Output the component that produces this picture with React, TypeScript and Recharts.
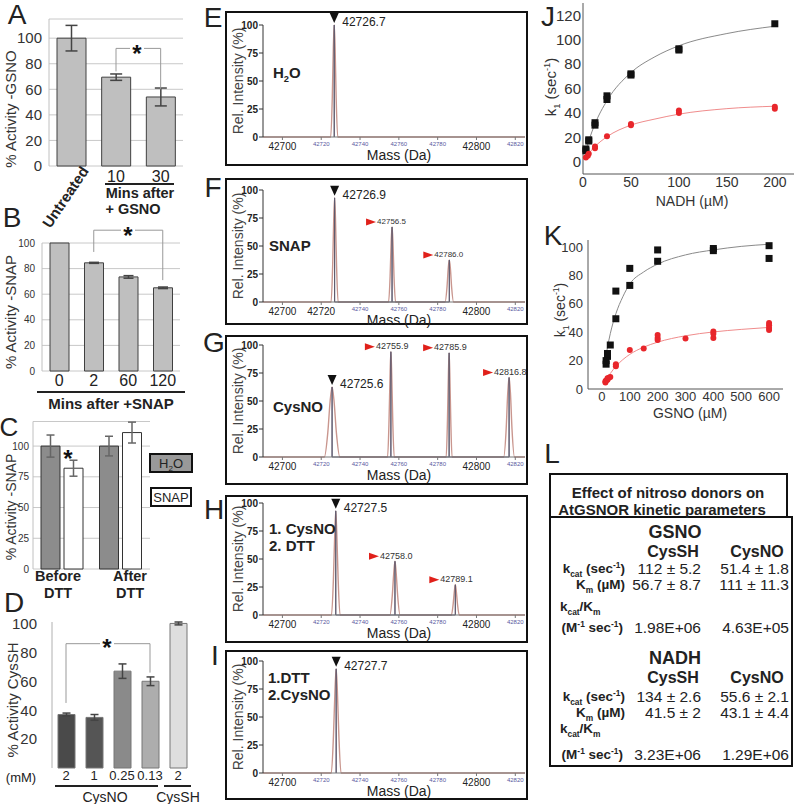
import React from 'react';
import { ComposedChart, Bar, ErrorBar, XAxis, YAxis, CartesianGrid, ReferenceLine, Cell, Line, Scatter } from 'recharts';

const FONT = '"Liberation Sans", Arial, Helvetica, sans-serif';

// A: activity after GSNO
const aCats = ['Untreated', '10', '30'];
const aVals = [100, 69.5, 54];
const aErr = [10, 2.5, 7];

// B: activity after SNAP
const bCats = ['0', '2', '60', '120'];
const bVals = [100, 84.5, 73.5, 65];
const bErr = [0, 0.4, 1, 0.6];

// C: before / after DTT
const cCats = ['Before', 'After'];
const cH2O = [100, 100];
const cH2OErr = [9, 8];
const cSnap = [82, 111];
const cSnapErr = [6.5, 8.5];

// D: CysNO / CysSH
const dKeys = ['no2', 'no1', 'no025', 'no013', 'sh2'];
const dDose = ['2', '1', '0.25', '0.13', '2'];
const dVals = [37, 35, 67, 60, 100];
const dErr = [1, 2, 5, 3, 1];
const dColors = ['#4a4a4a', '#555555', '#8a8a8a', '#adadad', '#dedede'];

// E-I: deconvoluted mass spectra
const massTicks = [42700, 42720, 42740, 42760, 42780, 42800, 42820];
const eMain = [{ x: 42726.7, y: 100, label: '42726.7' }];
const eAdd: any[] = [];
const eProfile = [[42690, 0], [42724.9, 0], [42725.7, 35], [42726.25, 80], [42726.7, 100], [42727.15, 80], [42727.7, 35], [42728.5, 0], [42825, 0]];

const fMain = [{ x: 42726.9, y: 93, label: '42726.9' }];
const fAdd = [{ x: 42756.5, y: 67, label: '42756.5' }, { x: 42786.0, y: 37.5, label: '42786.0' }];
const fProfile = [[42690, 0], [42725.1, 0], [42725.9, 33], [42726.45, 74], [42726.9, 93], [42727.35, 74], [42727.9, 33], [42728.7, 0],
  [42754.7, 0], [42755.5, 23], [42756.05, 54], [42756.5, 67], [42756.95, 54], [42757.5, 23], [42758.3, 0],
  [42783.8, 0], [42784.8, 13], [42785.45, 30], [42786.0, 37.5], [42786.55, 30], [42787.2, 13], [42788.2, 0], [42825, 0]];

const gMain = [{ x: 42725.6, y: 62.5, label: '42725.6' }];
const gAdd = [{ x: 42755.9, y: 94, label: '42755.9' }, { x: 42785.9, y: 93, label: '42785.9' }, { x: 42816.8, y: 71, label: '42816.8' }];
const gProfile = [[42690, 0], [42721.6, 0], [42723.4, 22], [42724.6, 50], [42725.6, 62.5], [42726.6, 50], [42727.8, 22], [42729.6, 0],
  [42754.2, 0], [42754.95, 33], [42755.5, 75], [42755.9, 94], [42756.3, 75], [42756.85, 33], [42757.6, 0],
  [42784.4, 0], [42785.05, 33], [42785.55, 75], [42785.9, 93], [42786.25, 75], [42786.75, 33], [42787.4, 0],
  [42814.0, 0], [42815.3, 25], [42816.1, 57], [42816.8, 71], [42817.5, 57], [42818.3, 25], [42819.6, 0], [42825, 0]];

const hMain = [{ x: 42727.5, y: 93, label: '42727.5' }];
const hAdd = [{ x: 42758.0, y: 48, label: '42758.0' }, { x: 42789.1, y: 27, label: '42789.1' }];
const hProfile = [[42690, 0], [42725.3, 0], [42726.3, 33], [42727.0, 74], [42727.5, 93], [42728.0, 74], [42728.7, 33], [42729.7, 0],
  [42755.4, 0], [42756.6, 17], [42757.4, 38], [42758.0, 48], [42758.6, 38], [42759.4, 17], [42760.6, 0],
  [42787.1, 0], [42788.0, 10], [42788.65, 22], [42789.1, 27], [42789.55, 22], [42790.2, 10], [42791.1, 0], [42825, 0]];

const iMain = [{ x: 42727.7, y: 93, label: '42727.7' }];
const iAdd: any[] = [];
const iProfile = [[42690, 0], [42725.2, 0], [42726.3, 33], [42727.1, 74], [42727.7, 93], [42728.3, 74], [42729.1, 33], [42730.2, 0], [42825, 0]];

// J: NADH kinetics
const jNadhSH = [3, 3, 6, 6, 12.5, 12.5, 25, 25, 50, 50, 100, 100, 200];
const jKSH = [10.5, 9, 18, 17, 32, 30, 51, 54, 72, 71, 92.5, 91.5, 113];
const jNadhNO = [3, 5, 6, 12.5, 12.5, 25, 50, 50, 100, 100, 200, 200];
const jKNO = [3.5, 5, 6.5, 11, 12.5, 21, 30, 31, 40, 42, 43.5, 45];
const jFitX = [3, 6, 12.5, 25, 50, 75, 100, 150, 200];
const jFitSH = [9, 17, 31, 50, 73, 86, 95, 105, 111];
const jFitNO = [3.6, 6.8, 12.5, 20.5, 30, 35, 39, 43.5, 45.5];

// K: GSNO kinetics
const kGsnoSH = [15, 15, 20, 20, 30, 50, 50, 100, 100, 200, 200, 400, 400, 600, 600];
const kKSH = [17.5, 20, 23, 25, 31, 49.5, 69, 73, 85, 90, 98, 97.5, 99, 92, 101];
const kGsnoNO = [12.5, 12.5, 15, 20, 20, 25, 30, 50, 50, 100, 150, 200, 200, 200, 300, 400, 400, 400, 600, 600, 600, 600];
const kKNO = [4.5, 5.5, 6, 6.5, 7.5, 8, 8.5, 16, 17.5, 27.5, 28.5, 34.5, 36, 38, 35.5, 36, 39, 40.5, 41.5, 43, 45, 46.5];
const kFitX = [15, 20, 30, 50, 75, 100, 150, 200, 300, 400, 500, 600];
const kFitSH = [24, 29.5, 39, 53, 65, 74, 82.5, 88, 94.5, 98, 100.5, 102];
const kFitNO = [6.2, 7.8, 10.9, 15.9, 20.7, 24.4, 29.5, 33, 37.5, 40.2, 42, 43.4];

// L: kinetic parameters table
const gsnoSH = ['112 ± 5.2', '56.7 ± 8.7', '1.98E+06'];
const gsnoNO = ['51.4 ± 1.8', '111 ± 11.3', '4.63E+05'];
const nadhSH = ['134 ± 2.6', '41.5 ± 2', '3.23E+06'];
const nadhNO = ['55.6 ± 2.1', '43.1 ± 4.4', '1.29E+06'];

const xy = (xs: number[], ys: number[]) => xs.map((x, i) => ({ x, y: ys[i] }));
const pairs = (p: number[][]) => p.map(([x, y]) => ({ x, y }));
const sticksOf = (pk: any[]) => pk.flatMap((p) => [{ x: p.x, y: 0 }, { x: p.x, y: p.y }, { x: p.x, y: 0 }]);

function Txt({ x, y, size = 14, bold = false, rot = 0, anchor = 'middle', color = '#222', children }: any) {
  const tx = anchor === 'start' ? '0%' : anchor === 'end' ? '-100%' : '-50%';
  return (
    <div style={{ position: 'absolute', left: x, top: y, transform: `translate(${tx}, -50%) rotate(${rot}deg)`, fontSize: size, fontWeight: bold ? 'bold' : 'normal', color, whiteSpace: 'nowrap', lineHeight: 1, fontFamily: FONT }}>
      {children}
    </div>
  );
}

const Sub = ({ children }: any) => <span style={{ fontSize: '0.62em', verticalAlign: 'sub', lineHeight: 0 }}>{children}</span>;
const Sup = ({ children }: any) => <span style={{ fontSize: '0.62em', verticalAlign: 'super', lineHeight: 0 }}>{children}</span>;

function Star({ x, y, bg = true }: any) {
  return (
    <>
      {bg && <div style={{ position: 'absolute', left: x - 7, top: y - 5, width: 14, height: 10, background: '#fff' }} />}
      <div style={{ position: 'absolute', left: x, top: y - 6.5, transform: 'translateX(-50%)', fontSize: 24, lineHeight: '24px', fontWeight: 'bold', fontFamily: FONT, color: '#111' }}>*</div>
    </>
  );
}

function Hline({ x1, x2, y }: any) {
  return <div style={{ position: 'absolute', left: x1, top: y, width: x2 - x1, height: 1.5, background: '#222' }} />;
}

const sig = (a: string, b: string, top: number, ya: number, yb: number) => [
  <ReferenceLine key="h" segment={[{ x: a, y: top }, { x: b, y: top }]} stroke="#999" ifOverflow="visible" />,
  <ReferenceLine key="l" segment={[{ x: a, y: top }, { x: a, y: ya }]} stroke="#999" ifOverflow="visible" />,
  <ReferenceLine key="r" segment={[{ x: b, y: top }, { x: b, y: yb }]} stroke="#999" ifOverflow="visible" />,
];

function ATick({ x, y, payload }: any) {
  if (payload.value === 'Untreated') {
    return <text transform={`translate(${x + 18},${y - 3}) rotate(-56)`} textAnchor="end" fontSize={15} fontWeight="bold" fill="#222" fontFamily={FONT}>Untreated</text>;
  }
  return <text x={x} y={y + 8} textAnchor="middle" fontSize={16} fill="#222" fontFamily={FONT}>{payload.value}</text>;
}

function PanelA() {
  const data = aCats.map((c, i) => ({ c, v: aVals[i], e: aErr[i] }));
  return (
    <div style={{ position: 'absolute', left: 0, top: 0 }}>
      <ComposedChart width={200} height={230} data={data} margin={{ top: 19, right: 17, bottom: 0, left: 0 }}>
        <CartesianGrid vertical={false} stroke="#c8c8c8" />
        <XAxis dataKey="c" height={64} tickLine={false} axisLine={false} tick={<ATick />} interval={0} />
        <YAxis width={49} domain={[0, 115]} ticks={[0, 20, 40, 60, 80, 100]} tick={{ fontSize: 15, fill: '#333', fontFamily: FONT }} tickLine={false} tickSize={0} tickMargin={7} axisLine={{ stroke: '#c0c0c0' }} />
        <Bar dataKey="v" fill="#bfbfbf" stroke="#404040" barSize={29} isAnimationActive={false}>
          <ErrorBar dataKey="e" width={6} stroke="#444" />
        </Bar>
        {sig('10', '30', 92, 74, 60)}
      </ComposedChart>
    </div>
  );
}

function PanelB() {
  const data = bCats.map((c, i) => ({ c, v: bVals[i], e: bErr[i] }));
  return (
    <div style={{ position: 'absolute', left: 0, top: 200 }}>
      <ComposedChart width={200} height={215} data={data} margin={{ top: 43, right: 20, bottom: 0, left: 0 }}>
        <CartesianGrid vertical={false} stroke="#c8c8c8" />
        <XAxis dataKey="c" height={44} tickLine={false} axisLine={false} tickSize={0} tickMargin={4} tick={{ fontSize: 16, fill: '#222', fontFamily: FONT }} interval={0} />
        <YAxis width={42} domain={[0, 100]} ticks={[0, 20, 40, 60, 80, 100]} tick={{ fontSize: 10, fill: '#333', fontFamily: FONT }} tickLine={false} tickSize={0} tickMargin={7} axisLine={{ stroke: '#c0c0c0' }} />
        <Bar dataKey="v" fill="#bfbfbf" stroke="#404040" barSize={19} isAnimationActive={false}>
          <ErrorBar dataKey="e" width={5} stroke="#444" />
        </Bar>
        {sig('2', '120', 110, 93, 71)}
      </ComposedChart>
    </div>
  );
}

function PanelC() {
  const data = cCats.map((c, i) => ({ c, h: cH2O[i], he: cH2OErr[i], s: cSnap[i], se: cSnapErr[i] }));
  return (
    <div style={{ position: 'absolute', left: 0, top: 410 }}>
      <ComposedChart width={170} height={175} data={data} margin={{ top: 11.5, right: 20, bottom: 0, left: 0 }} barGap={4}>
        <CartesianGrid vertical={false} stroke="#c8c8c8" />
        <XAxis dataKey="c" height={16} tick={false} tickLine={false} axisLine={false} />
        <YAxis width={33} domain={[0, 120]} ticks={[0, 25, 50, 75, 100]} tick={{ fontSize: 10, fill: '#333', fontFamily: FONT }} tickLine={false} tickSize={0} tickMargin={4} axisLine={{ stroke: '#c0c0c0' }} />
        <Bar dataKey="h" fill="#8c8c8c" stroke="#333" barSize={19} isAnimationActive={false}>
          <ErrorBar dataKey="he" width={4} stroke="#666" />
        </Bar>
        <Bar dataKey="s" fill="#ffffff" stroke="#333" barSize={19} isAnimationActive={false}>
          <ErrorBar dataKey="se" width={4} stroke="#666" />
        </Bar>
      </ComposedChart>
    </div>
  );
}

function PanelD() {
  const data = dKeys.map((k, i) => ({ k, v: dVals[i], e: dErr[i] }));
  return (
    <div style={{ position: 'absolute', left: 0, top: 610 }}>
      <ComposedChart width={200} height={182} data={data} margin={{ top: 12, right: 8, bottom: 0, left: 0 }}>
        <XAxis dataKey="k" height={24} tickLine={false} axisLine={false} tickSize={0} tickMargin={3} interval={0}
          tickFormatter={(v: string) => dDose[dKeys.indexOf(v)]} tick={{ fontSize: 13, fill: '#222', fontFamily: FONT }} />
        <YAxis width={52} domain={[0, 100]} ticks={[20, 40, 60, 80, 100]} tick={{ fontSize: 15, fill: '#333', fontFamily: FONT }} tickLine={false} tickSize={0} tickMargin={15} axisLine={{ stroke: '#b0b0b0' }} />
        <Bar dataKey="v" stroke="#777" barSize={17} isAnimationActive={false}>
          {data.map((d, i) => <Cell key={d.k} fill={dColors[i]} />)}
          <ErrorBar dataKey="e" width={4} stroke="#444" />
        </Bar>
        {sig('no2', 'no013', 86, 45, 66)}
      </ComposedChart>
    </div>
  );
}

function MassTick({ x, y, payload, bold }: any) {
  const b = bold.includes(payload.value);
  return (
    <text x={x} y={y + (b ? 8 : 4)} textAnchor="middle" fontSize={b ? 10 : 6} fill={b ? '#222' : '#5a5aa0'} fontFamily={FONT}>{payload.value}</text>
  );
}

const mainMark = (p: any) => (
  <g>
    <path d={`M${p.cx - 4.5},${p.cy - 12} L${p.cx + 4.5},${p.cy - 12} L${p.cx},${p.cy - 2} Z`} fill="#111" />
    <text x={p.cx + 8} y={p.cy - 2} fontSize={12} fill="#222" dominantBaseline="middle" fontFamily={FONT}>{p.payload.label}</text>
  </g>
);

const addMark = (fs: number) => (p: any) => (
  <g>
    <path d={`M${p.cx - 26},${p.cy - 8.5} L${p.cx - 16},${p.cy - 5} L${p.cx - 26},${p.cy - 1.5} Z`} fill="#e0201a" />
    <text x={p.cx - 15} y={p.cy - 5} fontSize={fs} fill="#333" dominantBaseline="middle" fontFamily={FONT}>{p.payload.label}</text>
  </g>
);

function Spectrum({ top, h, mTop, profile, main, adds, bold, addFs, notes }: any) {
  const innerH = h - 4;
  const xH = innerH - mTop - 112;
  return (
    <div style={{ position: 'absolute', left: 225, top, width: 303, height: h, border: '2px solid #111', boxSizing: 'border-box' }}>
      <ComposedChart width={299} height={innerH} margin={{ top: mTop, right: 1, bottom: 0, left: 0 }}>
        <XAxis type="number" dataKey="x" domain={[42690, 42825]} ticks={massTicks} height={xH} tickSize={3} stroke="#777" interval={0} tick={<MassTick bold={bold} />} />
        <YAxis type="number" dataKey="y" domain={[0, 100]} ticks={[0, 25, 50, 75, 100]} width={36} tickSize={4} tickMargin={1} stroke="#333" tick={{ fontSize: 10, fontWeight: 'bold', fill: '#222', fontFamily: FONT }} />
        <Line data={pairs(profile)} dataKey="y" type="monotone" stroke="#c9968e" strokeWidth={1.4} dot={false} isAnimationActive={false} />
        <Line data={sticksOf([...main, ...adds])} dataKey="y" type="linear" stroke="#5e5a6e" strokeWidth={1} dot={false} isAnimationActive={false} />
        <Scatter data={main} dataKey="y" shape={mainMark} isAnimationActive={false} />
        <Scatter data={adds} dataKey="y" shape={addMark(addFs)} isAnimationActive={false} />
      </ComposedChart>
      <Txt x={11} y={mTop + 56} size={14} rot={-90} color="#444">Rel. Intensity (%)</Txt>
      <Txt x={172} y={mTop + 112 + 18} size={14} color="#222">Mass (Da)</Txt>
      {notes}
    </div>
  );
}

const sq = (p: any) => <rect x={p.cx - 3.5} y={p.cy - 3.5} width={7} height={7} fill="#111" />;
const dotR = (p: any) => <circle cx={p.cx} cy={p.cy} r={3} fill="#e8262b" />;

function PanelJ() {
  return (
    <div style={{ position: 'absolute', left: 540, top: 0 }}>
      <ComposedChart width={260} height={205} margin={{ top: 3, right: 6, bottom: 0, left: 0 }}>
        <XAxis type="number" dataKey="x" domain={[0, 220]} ticks={[0, 50, 100, 150, 200]} height={31} tickLine={false} tickSize={3} tickMargin={0} stroke="#555" tick={{ fontSize: 14, fill: '#333', fontFamily: FONT }} />
        <YAxis type="number" dataKey="y" domain={[-10, 130]} ticks={[0, 20, 40, 60, 80, 100, 120]} width={43} tickLine={false} tickSize={1} tickMargin={1} stroke="#555" tick={{ fontSize: 15, fill: '#333', fontFamily: FONT }} />
        <Line data={xy(jFitX, jFitSH)} dataKey="y" type="monotone" stroke="#8a8a8a" strokeWidth={1} dot={false} isAnimationActive={false} />
        <Line data={xy(jFitX, jFitNO)} dataKey="y" type="monotone" stroke="#f08c8c" strokeWidth={1} dot={false} isAnimationActive={false} />
        <Scatter data={xy(jNadhSH, jKSH)} dataKey="y" shape={sq} isAnimationActive={false} />
        <Scatter data={xy(jNadhNO, jKNO)} dataKey="y" shape={dotR} isAnimationActive={false} />
      </ComposedChart>
    </div>
  );
}

function PanelK() {
  return (
    <div style={{ position: 'absolute', left: 540, top: 230 }}>
      <ComposedChart width={260} height={195} margin={{ top: 10, right: 17, bottom: 0, left: 0 }}>
        <XAxis type="number" dataKey="x" domain={[-50, 650]} ticks={[0, 100, 200, 300, 400, 500, 600]} height={36} tickLine={false} tickSize={2} tickMargin={1} stroke="#555" tick={{ fontSize: 13, fill: '#333', fontFamily: FONT }} />
        <YAxis type="number" dataKey="y" domain={[0, 105]} ticks={[0, 20, 40, 60, 80, 100]} width={48} tickLine={false} tickSize={3} tickMargin={2} stroke="#555" tick={{ fontSize: 13, fill: '#333', fontFamily: FONT }} />
        <Line data={xy(kFitX, kFitSH)} dataKey="y" type="monotone" stroke="#8a8a8a" strokeWidth={1} dot={false} isAnimationActive={false} />
        <Line data={xy(kFitX, kFitNO)} dataKey="y" type="monotone" stroke="#f08c8c" strokeWidth={1} dot={false} isAnimationActive={false} />
        <Scatter data={xy(kGsnoSH, kKSH)} dataKey="y" shape={sq} isAnimationActive={false} />
        <Scatter data={xy(kGsnoNO, kKNO)} dataKey="y" shape={dotR} isAnimationActive={false} />
      </ComposedChart>
    </div>
  );
}

function TableL() {
  const kcat = <>k<Sub>cat</Sub> (sec<Sup>-1</Sup>)</>;
  const km = <>K<Sub>m</Sub> (µM)</>;
  const ratio = <>k<Sub>cat</Sub>/K<Sub>m</Sub></>;
  const unit = <>(M<Sup>-1</Sup> sec<Sup>-1</Sup>)</>;
  const block = (y0: number, name: string, sh: string[], no: string[], ys: number[]) => (
    <>
      <Txt x={675} y={y0} size={18} bold>{name}</Txt>
      <Txt x={673} y={y0 + 20} size={16} bold>CysSH</Txt>
      <Txt x={757} y={y0 + 20} size={16} bold>CysNO</Txt>
      <Txt x={625} y={ys[0]} size={13.5} bold anchor="end">{kcat}</Txt>
      <Txt x={625} y={ys[1]} size={13.5} bold anchor="end">{km}</Txt>
      <Txt x={560} y={ys[2]} size={13.5} bold anchor="start">{ratio}</Txt>
      <Txt x={623} y={ys[3]} size={13.5} bold anchor="end">{unit}</Txt>
      {[0, 1, 3].map((r, i) => (
        <React.Fragment key={r}>
          <Txt x={701} y={ys[r]} size={15.5} anchor="end">{sh[i]}</Txt>
          <Txt x={789} y={ys[r]} size={15.5} anchor="end">{no[i]}</Txt>
        </React.Fragment>
      ))}
    </>
  );
  return (
    <>
      <div style={{ position: 'absolute', left: 549, top: 516, width: 244, height: 251, border: '2px solid #111', boxSizing: 'border-box' }} />
      <div style={{ position: 'absolute', left: 549, top: 473, width: 239, height: 45, border: '2px solid #111', boxSizing: 'border-box', background: '#fff' }} />
      <Txt x={668} y={492} size={15} bold>Effect of nitroso donors on</Txt>
      <Txt x={662} y={509} size={15} bold>AtGSNOR kinetic parameters</Txt>
      {block(532, 'GSNO', gsnoSH, gsnoNO, [569, 585, 607, 628])}
      {block(658, 'NADH', nadhSH, nadhNO, [697, 713, 729, 755])}
    </>
  );
}

export default function App() {
  return (
    <div style={{ position: 'absolute', left: 0, top: 0, width: 800, height: 804, background: '#fff', overflow: 'hidden', fontFamily: FONT }}>
      <PanelA />
      <PanelB />
      <PanelC />
      <PanelD />

      <Txt x={17} y={15} size={28}>A</Txt>
      <Txt x={12} y={218} size={28}>B</Txt>
      <Txt x={9} y={427} size={26}>C</Txt>
      <Txt x={14} y={603} size={28}>D</Txt>

      <Txt x={10} y={109} size={15} rot={-90} color="#333">% Activity -GSNO</Txt>
      <Txt x={10} y={312} size={15} rot={-90} color="#333">% Activity -SNAP</Txt>
      <Txt x={11} y={507} size={14} rot={-90} color="#333">% Activity -SNAP</Txt>
      <Txt x={12} y={700} size={15} rot={-90} color="#333">% Activity CysSH</Txt>

      <Star x={137} y={48} />
      <Star x={128} y={230} />
      <Star x={68} y={453} bg={false} />
      <Star x={107} y={642} />

      <Hline x1={105} x2={174} y={183} />
      <Txt x={140} y={193} size={14.5} bold>Mins after</Txt>
      <Txt x={133} y={209} size={14.5} bold>+ GSNO</Txt>

      <Hline x1={37} x2={185} y={391} />
      <Txt x={111} y={403} size={15} bold>Mins after +SNAP</Txt>

      <div style={{ position: 'absolute', left: 149, top: 453, width: 44, height: 20, background: '#999', border: '2px solid #111', boxSizing: 'border-box' }} />
      <Txt x={171} y={463} size={13}>H<Sub>2</Sub>O</Txt>
      <div style={{ position: 'absolute', left: 150, top: 487, width: 42, height: 20, background: '#fff', border: '2px solid #111', boxSizing: 'border-box' }} />
      <Txt x={171} y={497} size={13}>SNAP</Txt>
      <Txt x={58} y={576} size={14.5} bold>Before</Txt>
      <Txt x={58} y={593} size={14.5} bold>DTT</Txt>
      <Txt x={130} y={576} size={14.5} bold>After</Txt>
      <Txt x={130} y={593} size={14.5} bold>DTT</Txt>

      <Txt x={21} y={777} size={13}>(mM)</Txt>
      <Hline x1={55} x2={158} y={785} />
      <Txt x={105} y={797} size={14}>CysNO</Txt>
      <Hline x1={164} x2={191} y={785} />
      <Txt x={178} y={797} size={14}>CysSH</Txt>

      <Spectrum top={11} h={155} mTop={12} profile={eProfile} main={eMain} adds={eAdd} bold={[42700, 42800]} addFs={9}
        notes={<Txt x={46} y={59} size={15} bold anchor="start">H<Sub>2</Sub>O</Txt>} />
      <Spectrum top={178} h={147} mTop={10} profile={fProfile} main={fMain} adds={fAdd} bold={[42700, 42720, 42800]} addFs={8}
        notes={<Txt x={42} y={65} size={15} bold anchor="start">SNAP</Txt>} />
      <Spectrum top={335} h={150} mTop={8} profile={gProfile} main={gMain} adds={gAdd} bold={[42700, 42800]} addFs={9}
        notes={<Txt x={46} y={69} size={15} bold anchor="start">CysNO</Txt>} />
      <Spectrum top={495} h={148} mTop={6} profile={hProfile} main={hMain} adds={hAdd} bold={[42700, 42800]} addFs={9}
        notes={<><Txt x={42} y={31} size={15} bold anchor="start">1. CysNO</Txt><Txt x={42} y={48} size={15} bold anchor="start">2. DTT</Txt></>} />
      <Spectrum top={650} h={150} mTop={9} profile={iProfile} main={iMain} adds={iAdd} bold={[42700, 42800]} addFs={9}
        notes={<><Txt x={41} y={25} size={15} bold anchor="start">1.DTT</Txt><Txt x={41} y={42} size={15} bold anchor="start">2.CysNO</Txt></>} />

      <Txt x={213} y={18} size={28}>E</Txt>
      <Txt x={213} y={188} size={28}>F</Txt>
      <Txt x={214} y={343} size={28}>G</Txt>
      <Txt x={214} y={510} size={28}>H</Txt>
      <Txt x={215} y={656} size={28}>I</Txt>

      <PanelJ />
      <PanelK />
      <Txt x={548} y={17} size={28}>J</Txt>
      <Txt x={553} y={236} size={28}>K</Txt>
      <Txt x={552} y={454} size={28}>L</Txt>
      <Txt x={550} y={87} size={15} rot={-90} color="#333">k<Sub>1</Sub> (sec<Sup>-1</Sup>)</Txt>
      <Txt x={692} y={201} size={14} color="#333">NADH (µM)</Txt>
      <Txt x={560} y={310} size={14} rot={-90} color="#333">k<Sub>1</Sub> (sec<Sup>-1</Sup>)</Txt>
      <Txt x={690} y={413} size={14} color="#333">GSNO (µM)</Txt>

      <TableL />
    </div>
  );
}
